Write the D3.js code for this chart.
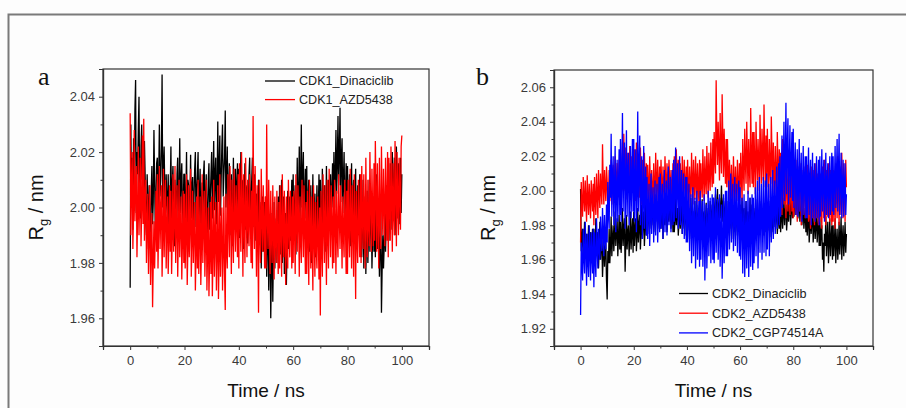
<!DOCTYPE html>
<html>
<head>
<meta charset="utf-8">
<script src="https://cdn.jsdelivr.net/npm/d3@7"></script>
<style>
html,body{margin:0;padding:0;background:#fdfdfd;}
svg{display:block;}
text{font-family:Arial,"Liberation Sans",sans-serif;}
</style>
</head>
<body>
<svg id="chart" width="906" height="408"></svg>
<script>
// ---------- DATA (Rg in nm, sampled every 0.25 ns from 0 to 100 ns) ----------
const timeStepNs = 0.25;
const xTicksMajor = [0, 20, 40, 60, 80, 100];
const yTicksA = [1.96, 1.98, 2.00, 2.02, 2.04];
const yTicksB = [1.92, 1.94, 1.96, 1.98, 2.00, 2.02, 2.04, 2.06];

const cdk1Dinaciclib = [
1.971,2.030,2.002,2.018,1.992,2.025,2.008,2.035,2.046,1.998,2.020,2.012,2.028,2.040,2.005,1.996,2.022,2.030,2.010,2.016,
2.003,2.024,2.012,1.995,1.990,2.012,2.002,1.985,2.008,1.996,1.988,2.006,2.015,1.994,2.002,2.028,2.010,1.992,2.004,2.016,
2.018,1.997,2.010,2.030,2.004,2.010,2.022,2.048,2.000,2.015,2.022,2.006,1.994,2.012,2.002,1.998,2.012,1.992,1.988,2.006,
2.022,1.992,2.008,2.015,1.998,1.986,2.010,2.004,1.995,2.012,2.018,1.990,2.005,2.025,1.998,2.010,2.016,2.000,1.994,2.012,
2.012,1.988,2.004,2.020,1.993,2.010,2.008,1.984,2.002,2.019,1.996,2.008,2.011,1.989,2.004,2.014,2.020,1.993,2.006,2.012,
2.020,1.993,2.006,2.014,1.987,2.002,2.009,1.995,2.012,2.017,1.990,2.004,2.012,1.985,1.998,2.010,2.016,1.992,2.004,2.012,
2.020,1.996,2.010,2.024,1.999,2.012,2.018,1.994,2.006,2.031,2.002,2.014,2.026,1.997,2.010,2.022,2.030,2.004,2.012,2.018,
2.035,2.000,2.012,2.022,1.993,2.006,2.016,1.990,2.004,2.012,1.986,2.000,2.018,1.992,2.006,2.014,1.995,2.008,2.016,1.994,
2.014,1.989,2.004,2.020,1.995,2.008,2.010,1.985,2.002,2.016,1.992,2.006,2.008,1.987,2.000,2.012,2.018,1.993,2.004,2.010,
2.018,1.993,2.006,2.012,1.988,2.000,2.005,1.984,1.996,2.010,1.990,2.002,1.998,1.978,1.992,2.004,1.984,1.996,2.002,1.980,
2.004,1.975,1.990,1.995,1.970,1.984,1.990,1.960,1.978,1.998,1.966,1.985,2.002,1.978,1.990,1.996,1.980,1.992,2.004,1.984,
2.008,1.983,1.996,2.010,1.980,1.994,2.004,1.976,1.990,1.998,1.972,1.986,2.006,1.985,1.996,2.004,1.988,1.998,2.010,1.990,
2.012,1.988,2.000,2.008,1.983,1.996,2.018,1.992,2.004,2.022,1.995,2.010,2.030,2.000,2.012,2.020,1.994,2.004,2.014,1.996,
2.015,1.990,2.002,2.010,1.984,1.996,2.008,1.980,1.994,2.012,1.986,2.000,2.005,1.982,1.994,2.008,1.988,1.998,2.012,1.992,
2.010,1.987,1.998,2.014,1.990,2.004,2.008,1.984,1.996,2.015,1.992,2.004,2.010,1.995,2.002,2.012,1.996,2.006,2.016,2.000,
2.020,2.000,2.012,2.028,2.005,2.016,2.033,2.008,2.020,2.036,2.002,2.018,2.025,1.998,2.010,2.020,1.995,2.004,2.016,1.994,
2.015,1.990,2.002,2.012,1.986,1.998,2.016,1.992,2.004,2.010,1.988,1.998,2.014,1.985,1.996,2.008,1.990,2.000,2.012,1.988,
2.008,1.982,1.994,2.010,1.978,1.992,2.004,1.976,1.990,2.006,1.980,1.992,2.010,1.984,1.996,2.002,1.978,1.990,2.004,1.984,
2.008,1.982,1.996,2.012,1.985,1.998,1.995,1.975,1.986,2.000,1.962,1.978,1.990,1.978,1.986,2.004,1.984,1.994,2.008,1.990,
2.010,1.988,2.000,2.016,1.992,2.004,2.020,1.995,2.008,2.018,1.990,2.002,2.022,1.996,2.008,2.016,1.994,2.004,2.018,1.998,
2.012];

const cdk1AZD5438 = [
2.034,1.990,2.006,2.020,1.985,2.000,2.028,1.995,2.008,2.015,1.982,1.998,2.022,1.990,2.004,2.018,1.986,2.000,2.026,1.994,
2.032,1.988,2.002,2.010,1.980,1.994,2.005,1.976,1.990,2.008,1.972,1.986,1.998,1.964,1.980,1.995,1.978,1.990,2.006,1.984,
2.012,1.978,1.994,2.015,1.985,1.998,2.008,1.975,1.990,2.014,1.982,1.996,2.010,1.978,1.992,2.004,1.976,1.988,2.008,1.984,
2.006,1.976,1.990,2.012,1.984,1.996,2.015,1.980,1.994,2.008,1.975,1.990,2.010,1.982,1.994,2.004,1.974,1.988,2.006,1.980,
2.005,1.978,1.990,2.012,1.972,1.986,2.008,1.982,1.994,2.014,1.975,1.988,2.006,1.980,1.992,2.002,1.970,1.984,2.004,1.978,
2.010,1.976,1.990,2.004,1.972,1.986,2.012,1.980,1.994,2.006,1.975,1.988,2.010,1.970,1.984,2.000,1.968,1.982,2.002,1.976,
2.004,1.968,1.984,2.010,1.975,1.988,2.002,1.970,1.984,2.008,1.967,1.982,2.012,1.975,1.990,2.000,1.970,1.984,2.004,1.976,
1.963,2.005,1.984,1.978,2.012,1.994,1.982,2.015,1.996,1.976,2.010,1.990,1.980,2.014,1.996,1.984,2.008,1.994,1.982,2.012,
1.978,2.016,1.996,1.984,2.020,2.000,1.975,2.012,1.994,1.980,2.018,1.998,1.982,2.010,1.994,1.986,2.012,1.996,1.980,2.006,
1.978,2.033,1.996,1.985,2.015,1.998,1.975,2.008,1.990,1.962,2.010,1.992,1.980,2.014,1.996,1.984,2.008,1.994,1.978,2.004,
1.978,2.030,1.996,1.985,2.010,1.994,1.976,2.006,1.990,1.980,2.008,1.992,1.974,2.004,1.988,1.980,2.006,1.990,1.976,2.002,
1.978,2.008,1.992,1.975,2.012,1.994,1.982,2.006,1.990,1.972,2.004,1.986,1.978,2.010,1.992,1.982,2.006,1.994,1.978,2.004,
1.980,2.006,1.992,1.976,2.012,1.994,1.984,2.008,1.996,1.975,2.004,1.988,1.980,2.010,1.994,1.982,2.008,1.992,1.976,2.002,
1.976,2.006,1.990,1.972,2.010,1.992,1.978,2.004,1.988,1.970,2.008,1.990,1.975,2.002,1.986,1.978,2.004,1.990,1.974,2.000,
1.961,2.006,1.986,1.975,2.012,1.994,1.980,2.008,1.992,1.972,2.010,1.990,1.978,2.014,1.996,1.982,2.008,1.994,1.978,2.004,
1.980,2.010,1.994,1.976,2.006,1.990,1.982,2.012,1.996,1.985,2.008,1.994,1.978,2.004,1.990,1.982,2.010,1.994,1.976,2.006,
1.976,2.010,1.992,1.982,2.014,1.996,1.978,2.008,1.992,1.975,2.012,1.994,1.967,2.006,1.988,1.980,2.010,1.994,1.982,2.012,
1.980,2.015,1.996,1.985,2.012,1.998,1.978,2.018,1.996,1.982,2.010,1.994,1.986,2.020,2.002,1.984,2.014,1.998,1.986,2.016,
1.988,2.024,2.004,1.984,2.016,1.998,1.978,2.018,1.996,1.985,2.022,2.002,1.990,2.014,2.000,1.986,2.018,2.002,1.988,2.020,
1.982,2.018,2.000,1.988,2.022,2.004,1.984,2.016,1.998,1.990,2.024,2.006,1.986,2.020,2.002,1.990,2.018,2.004,1.992,2.022,
2.026];

const cdk2Dinaciclib = [
2.001,1.965,1.972,1.978,1.958,1.968,1.982,1.962,1.972,1.975,1.956,1.966,1.980,1.963,1.970,1.976,1.958,1.968,1.978,1.962,
1.978,1.958,1.968,1.984,1.964,1.972,1.976,1.955,1.966,1.982,1.960,1.970,1.972,1.950,1.962,1.976,1.956,1.966,1.970,1.948,
1.937,1.965,1.958,1.978,1.958,1.968,1.985,1.962,1.972,1.980,1.965,1.974,1.988,1.968,1.976,1.984,1.962,1.972,1.986,1.966,
1.982,1.964,1.974,1.990,1.968,1.978,1.984,1.953,1.970,1.986,1.966,1.976,1.980,1.962,1.972,1.988,1.966,1.976,1.984,1.964,
1.988,1.968,1.978,1.984,1.965,1.974,1.990,1.970,1.980,1.986,1.966,1.976,1.992,1.972,1.982,1.988,1.968,1.978,1.994,1.974,
1.995,1.975,1.984,1.990,1.978,1.984,1.996,1.980,1.988,1.992,1.976,1.984,1.998,1.982,1.990,1.994,1.978,1.986,1.996,1.980,
1.994,1.978,1.986,1.990,1.972,1.982,1.996,1.980,1.988,1.992,1.976,1.984,1.998,1.982,1.990,1.994,1.978,1.986,1.992,1.976,
1.993,1.976,1.984,1.997,1.980,1.988,1.990,1.974,1.982,1.995,1.978,1.986,1.992,1.975,1.984,1.996,1.978,1.986,1.990,1.974,
1.994,1.977,1.986,1.990,1.972,1.982,1.996,1.980,1.988,1.988,1.974,1.982,1.994,1.976,1.984,1.992,1.975,1.984,1.990,1.972,
1.990,1.972,1.982,1.995,1.978,1.986,1.988,1.975,1.982,1.993,1.977,1.984,1.990,1.974,1.982,1.994,1.976,1.986,1.992,1.975,
1.996,1.978,1.988,1.998,1.982,1.990,2.001,1.980,1.990,1.996,1.984,1.990,2.003,1.982,1.992,1.996,1.978,1.988,1.994,1.976,
1.994,1.976,1.986,1.990,1.974,1.982,1.995,1.978,1.986,1.988,1.972,1.980,1.993,1.976,1.984,1.990,1.974,1.982,1.994,1.978,
1.992,1.976,1.984,1.996,1.980,1.988,1.990,1.974,1.982,1.994,1.978,1.986,1.988,1.975,1.982,1.996,1.978,1.986,1.992,1.976,
1.993,1.977,1.985,1.990,1.973,1.982,1.995,1.979,1.986,1.989,1.975,1.982,1.994,1.978,1.986,1.990,1.974,1.982,1.992,1.976,
1.990,1.975,1.982,1.994,1.977,1.986,1.988,1.973,1.980,1.992,1.976,1.984,1.995,1.979,1.986,1.990,1.975,1.982,1.994,1.978,
1.990,1.976,1.984,1.994,1.978,1.986,1.996,1.980,1.988,1.992,1.977,1.984,1.998,1.982,1.990,1.996,1.980,1.988,2.000,1.984,
2.002,1.985,1.992,1.998,1.986,1.992,2.000,1.984,1.992,1.996,1.982,1.988,1.994,1.980,1.986,1.992,1.978,1.984,1.990,1.976,
1.990,1.974,1.982,1.988,1.970,1.978,1.992,1.975,1.984,1.986,1.970,1.978,1.990,1.972,1.980,1.988,1.970,1.978,1.986,1.968,
1.985,1.968,1.976,1.980,1.960,1.970,1.953,1.975,1.968,1.985,1.962,1.972,1.982,1.958,1.970,1.984,1.962,1.972,1.980,1.960,
1.980,1.962,1.970,1.984,1.958,1.970,1.978,1.960,1.968,1.982,1.963,1.972,1.985,1.960,1.972,1.980,1.962,1.970,1.982,1.964,
1.975];

const cdk2AZD5438 = [
1.970,2.005,1.992,1.985,2.008,1.996,1.988,2.006,1.994,1.982,2.009,1.996,1.986,2.004,1.994,1.984,2.006,1.996,1.988,2.004,
1.980,2.008,1.994,1.986,2.010,1.998,1.984,2.012,1.998,1.990,2.010,2.000,1.992,2.027,2.004,1.992,2.012,2.002,1.994,2.014,
2.005,1.990,1.998,2.012,1.994,2.004,2.018,1.992,2.006,2.015,1.995,2.004,2.020,1.998,2.008,2.016,1.996,2.006,2.018,1.998,
2.022,1.996,2.010,2.028,2.000,2.033,2.012,2.000,2.025,2.008,1.995,2.022,2.006,2.000,2.026,2.010,1.998,2.020,2.008,2.000,
1.998,2.024,2.010,1.994,2.028,2.010,2.000,2.020,2.008,1.996,2.025,2.008,1.992,2.018,2.004,1.996,2.022,2.006,1.994,2.016,
1.995,2.015,2.004,1.990,2.020,2.004,1.994,2.012,2.002,1.988,2.016,2.002,1.995,2.022,2.006,1.994,2.018,2.004,1.992,2.014,
1.994,2.018,2.004,1.990,2.014,2.002,1.996,2.020,2.006,1.992,2.016,2.004,1.998,2.018,2.006,1.994,2.012,2.002,1.992,2.016,
1.994,2.020,2.006,1.998,2.024,2.010,1.995,2.018,2.004,1.992,2.016,2.002,1.996,2.020,2.006,1.994,2.018,2.004,1.996,2.014,
1.994,2.018,2.004,1.990,2.014,2.002,1.996,2.022,2.006,1.992,2.018,2.004,1.995,2.020,2.006,1.992,2.016,2.002,1.994,2.018,
1.992,2.016,2.004,1.996,2.024,2.008,1.994,2.020,2.006,1.998,2.026,2.010,1.996,2.022,2.008,2.000,2.028,2.012,2.002,2.030,
2.004,2.034,2.018,2.010,2.064,2.030,2.015,2.040,2.024,2.006,2.045,2.022,2.010,2.056,2.030,2.008,2.036,2.018,2.004,2.030,
2.002,2.030,2.012,1.994,2.018,2.004,1.988,2.015,2.000,1.992,2.020,2.004,1.990,2.014,2.002,1.994,2.018,2.004,1.992,2.016,
1.996,2.022,2.008,1.994,2.030,2.012,2.000,2.036,2.016,2.004,2.040,2.020,1.998,2.030,2.012,2.002,2.048,2.020,2.004,2.034,
2.002,2.034,2.016,1.998,2.040,2.018,2.006,2.030,2.016,2.000,2.044,2.020,2.004,2.036,2.018,2.006,2.050,2.024,2.002,2.032,
2.002,2.036,2.016,1.996,2.030,2.012,2.004,2.043,2.020,1.998,2.028,2.012,1.994,2.026,2.008,1.998,2.034,2.014,1.996,2.024,
1.990,2.022,2.006,1.986,2.030,2.008,1.992,2.024,2.006,1.984,2.018,2.002,1.988,2.014,2.000,1.986,2.020,2.002,1.988,2.016,
1.984,2.012,1.998,1.986,2.018,2.002,1.982,2.014,1.998,1.988,2.016,2.000,1.980,2.012,1.996,1.986,2.014,1.998,1.984,2.010,
1.986,2.015,2.000,1.982,2.010,1.996,1.978,2.014,1.996,1.984,2.012,1.998,1.980,2.016,1.998,1.984,2.010,1.996,1.980,2.012,
1.982,2.010,1.996,1.978,2.014,1.996,1.984,2.018,2.000,1.980,2.012,1.996,1.985,2.016,2.000,1.982,2.012,1.996,1.980,2.014,
1.982,2.012,1.996,1.978,2.016,1.998,1.984,2.020,2.002,1.980,2.014,1.996,1.986,2.022,2.004,1.984,2.016,2.000,1.982,2.018,
2.002];

const cdk2CGP74514A = [
1.928,1.970,1.958,1.948,1.978,1.962,1.952,1.982,1.966,1.945,1.975,1.960,1.950,1.980,1.964,1.948,1.976,1.962,1.952,1.978,
1.944,1.976,1.960,1.950,1.984,1.966,1.955,1.978,1.966,1.960,1.985,1.972,1.965,1.990,1.976,1.962,1.986,1.972,1.966,1.992,
1.970,2.005,1.986,1.978,2.015,1.996,2.033,1.985,2.008,2.020,1.980,2.000,2.026,1.976,1.998,2.018,1.982,2.002,2.024,1.986,
2.030,1.982,2.006,2.045,1.988,2.012,2.028,1.978,2.004,2.035,1.985,2.010,2.022,1.980,2.000,2.026,1.984,2.004,2.030,1.988,
2.030,1.982,2.006,2.024,1.976,2.000,2.046,1.988,2.014,2.032,1.980,2.006,2.020,1.972,1.996,2.026,1.978,2.002,2.014,1.974,
2.008,1.972,1.990,2.004,1.968,1.986,2.010,1.975,1.992,2.002,1.970,1.986,2.006,1.974,1.990,2.004,1.970,1.986,2.008,1.976,
2.010,1.978,1.994,2.004,1.972,1.988,2.012,1.976,1.994,2.006,1.974,1.990,2.014,1.980,1.996,2.008,1.976,1.992,2.012,1.980,
2.018,1.982,2.000,2.025,1.984,2.004,2.016,1.978,1.996,2.020,1.980,2.000,2.012,1.975,1.994,2.010,1.972,1.990,2.008,1.970,
2.008,1.970,1.988,2.004,1.965,1.984,1.998,1.958,1.978,2.002,1.962,1.982,1.996,1.955,1.976,2.000,1.960,1.980,1.994,1.956,
2.000,1.960,1.980,1.994,1.956,1.975,1.998,1.948,1.972,1.992,1.955,1.974,2.000,1.962,1.980,1.996,1.958,1.976,1.998,1.960,
1.996,1.958,1.976,2.002,1.964,1.982,1.995,1.960,1.978,1.998,1.956,1.976,1.992,1.949,1.970,1.998,1.958,1.978,2.000,1.962,
2.000,1.962,1.980,2.006,1.966,1.986,2.010,1.970,1.990,2.004,1.965,1.984,2.008,1.968,1.988,2.004,1.964,1.982,2.006,1.962,
2.002,1.960,1.980,1.996,1.952,1.974,1.998,1.950,1.972,1.994,1.955,1.974,2.000,1.950,1.974,1.996,1.956,1.976,1.998,1.954,
1.996,1.958,1.976,2.002,1.962,1.982,2.006,1.955,1.980,2.008,1.964,1.986,2.004,1.960,1.982,2.008,1.964,1.986,2.006,1.962,
2.010,1.966,1.988,2.004,1.962,1.984,2.008,1.970,1.990,2.012,1.972,1.992,2.006,1.975,1.990,2.014,1.978,1.996,2.016,1.980,
2.020,1.985,2.004,2.032,1.990,2.012,2.040,1.994,2.018,2.051,1.998,2.024,2.042,1.992,2.016,2.038,1.996,2.016,2.034,1.994,
2.036,1.990,2.012,2.028,1.986,2.006,2.024,1.985,2.004,2.030,1.988,2.008,2.022,1.982,2.002,2.026,1.986,2.006,2.020,1.984,
2.020,1.984,2.002,2.025,1.986,2.006,2.018,1.980,2.000,2.022,1.984,2.004,2.016,1.982,2.000,2.020,1.984,2.002,2.018,1.980,
2.020,1.985,2.002,2.024,1.988,2.006,2.018,1.982,2.000,2.022,1.986,2.004,2.016,1.984,2.000,2.020,1.986,2.004,2.022,1.988,
2.020,1.986,2.004,2.026,1.990,2.008,2.030,1.988,2.010,2.033,1.986,2.006,2.022,1.984,2.002,2.018,1.985,2.002,2.016,1.986,
1.998];

const panelA = {
  label: "a",
  series: [
    {name: "CDK1_Dinaciclib", values: cdk1Dinaciclib, color: "#000000"},
    {name: "CDK1_AZD5438", values: cdk1AZD5438, color: "#ff0000"}
  ],
  yDomain: [1.95, 2.05], yTicks: yTicksA,
  box: {left: 103, right: 429, top: 69, bottom: 346},
  labelX: 38, titleOffset: 60,
  legend: {x1: 265, x2: 295, tx: 299, y0: 81, dy: 18.6}
};
const panelB = {
  label: "b",
  series: [
    {name: "CDK2_Dinaciclib", values: cdk2Dinaciclib, color: "#000000"},
    {name: "CDK2_AZD5438", values: cdk2AZD5438, color: "#ff0000"},
    {name: "CDK2_CGP74514A", values: cdk2CGP74514A, color: "#0000ff"}
  ],
  yDomain: [1.91, 2.07], yTicks: yTicksB,
  box: {left: 554, right: 873, top: 70, bottom: 346},
  labelX: 476, titleOffset: 59,
  legend: {x1: 679, x2: 708, tx: 712, y0: 293.5, dy: 19.7}
};

const svg = d3.select("#chart");
svg.append("rect").attr("x", 0).attr("y", 0).attr("width", 906).attr("height", 408).attr("fill", "#fdfdfd");
// outer frame of the figure
svg.append("rect").attr("x", 8.5).attr("y", 14.5).attr("width", 1000).attr("height", 600)
  .attr("fill", "none").attr("stroke", "#7a7a7a").attr("stroke-width", 2);

function drawPanel(p) {
  const b = p.box;
  const g = svg.append("g");
  const x = d3.scaleLinear().domain([-10, 110]).range([b.left, b.right]);
  const y = d3.scaleLinear().domain(p.yDomain).range([b.bottom, b.top]);

  const clipId = "clip-" + p.label;
  g.append("clipPath").attr("id", clipId).append("rect")
    .attr("x", b.left).attr("y", b.top).attr("width", b.right - b.left).attr("height", b.bottom - b.top);

  const line = d3.line().x((d, i) => x(i * timeStepNs)).y(d => y(d));
  const plot = g.append("g").attr("clip-path", `url(#${clipId})`);
  p.series.forEach(s => {
    plot.append("path").datum(s.values).attr("d", line)
      .attr("fill", "none").attr("stroke", s.color).attr("stroke-width", 1.3)
      .attr("stroke-linejoin", "bevel");
  });

  // box (top and right lines)
  g.append("rect").attr("x", b.left).attr("y", b.top).attr("width", b.right - b.left).attr("height", b.bottom - b.top)
    .attr("fill", "none").attr("stroke", "#333").attr("stroke-width", 1.2);

  const xMinor = d3.range(-10, 111, 20);
  const yMinor = d3.range(0, Math.round((p.yDomain[1] - p.yDomain[0]) / 0.01) + 1)
    .map(k => +(p.yDomain[0] + k * 0.01).toFixed(2)).filter(v => !p.yTicks.some(t => Math.abs(t - v) < 1e-6));

  const styleAxis = sel => {
    sel.select(".domain").attr("stroke", "#333").attr("stroke-width", 1.2);
    sel.selectAll(".tick line").attr("stroke", "#333").attr("stroke-width", 1);
    sel.selectAll(".tick text").attr("fill", "#3a3a3a").style("font-size", "13px")
      .style("font-family", "Arial, 'Liberation Sans', sans-serif");
  };

  const xa = g.append("g").attr("transform", `translate(0,${b.bottom})`)
    .call(d3.axisBottom(x).tickValues(xTicksMajor).tickSize(4).tickPadding(6).tickFormat(d3.format("d")));
  styleAxis(xa);
  const xm = g.append("g").attr("transform", `translate(0,${b.bottom})`)
    .call(d3.axisBottom(x).tickValues(xMinor).tickSize(2.5).tickFormat(""));
  styleAxis(xm);

  const ya = g.append("g").attr("transform", `translate(${b.left},0)`)
    .call(d3.axisLeft(y).tickValues(p.yTicks).tickSize(4).tickPadding(4).tickFormat(d3.format(".2f")));
  styleAxis(ya);
  const ym = g.append("g").attr("transform", `translate(${b.left},0)`)
    .call(d3.axisLeft(y).tickValues(yMinor).tickSize(2.5).tickFormat(""));
  styleAxis(ym);

  // axis titles
  const cx = (b.left + b.right) / 2;
  g.append("text").attr("x", cx).attr("y", 397).attr("text-anchor", "middle")
    .style("font-size", "19px").attr("fill", "#111").text("Time / ns");

  const yt = g.append("text").attr("transform", `translate(${b.left - p.titleOffset},${(b.top + b.bottom) / 2}) rotate(-90)`)
    .attr("text-anchor", "middle").style("font-size", "20px").attr("fill", "#111");
  yt.append("tspan").text("R");
  yt.append("tspan").attr("dy", 5).style("font-size", "13px").text("g");
  yt.append("tspan").attr("dy", -5).text(" / nm");

  // panel label
  g.append("text").attr("x", p.labelX).attr("y", 85)
    .style("font-family", "'Liberation Serif','Times New Roman',serif").style("font-size", "26px")
    .attr("fill", "#111").text(p.label);

  // legend
  const L = p.legend;
  p.series.forEach((s, i) => {
    const yy = L.y0 + i * L.dy;
    g.append("line").attr("x1", L.x1).attr("x2", L.x2).attr("y1", yy).attr("y2", yy)
      .attr("stroke", s.color).attr("stroke-width", 1.3);
    g.append("text").attr("x", L.tx).attr("y", yy).attr("dy", "0.35em")
      .style("font-size", "12.6px").attr("fill", "#222").text(s.name);
  });
}

drawPanel(panelA);
drawPanel(panelB);
</script>
</body>
</html>
